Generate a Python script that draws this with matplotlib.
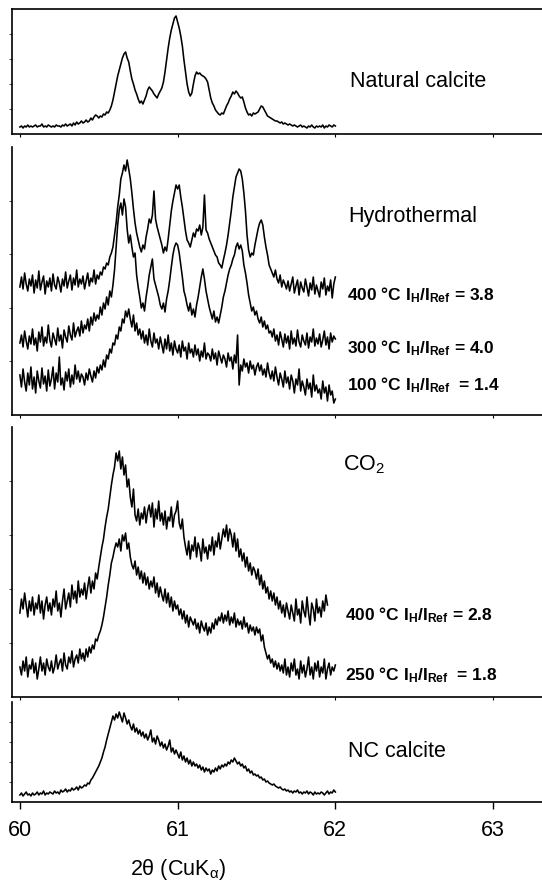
import numpy as np
import matplotlib
matplotlib.use("Agg")
import matplotlib.pyplot as plt

plt.rcParams['font.family'] = ['Liberation Sans', 'DejaVu Sans']
plt.rcParams['mathtext.default'] = 'regular'

# 2theta grid of the scans (0.01 deg steps, 60 -> 62)
two_theta = np.round(np.arange(60.0, 62.0001, 0.01), 2)

# intensities (arbitrary units, panel pixel heights)
natural = [7,8,6,8,7,9,7,8,7,8, 9,7,8,8,10,7,8,7,9,8, 7,8,7,9,8,8,7,9,8,10,
           8,9,10,8,11,9,12,10,11,13, 11,12,14,12,13,16,14,17,19,18,
           16,18,17,20,19,22,21,24,28,34, 42,50,58,64,70,76,80,82,76,72,
           63,55,50,44,40,35,31,33,30,34, 38,44,47,45,43,40,38,36,40,43,
           46,52,62,74,86,96,104,110,116,118, 112,106,98,88,74,62,50,42,38,41,
           50,58,62,60,61,59,58,57,55,52, 44,36,31,28,24,22,20,19,21,20,
           24,28,31,35,38,42,40,43,41,38, 36,37,32,26,22,19,20,18,21,20,
           21,22,25,28,27,24,21,18,17,16, 15,14,13,13,12,11,12,10,11,10,
           9,10,9,8,9,8,7,8,9,7, 8,7,6,8,7,9,7,6,8,7, 8,7,9,6,8,7,9,8,7,9, 8]

hydro_400 = [128,138,126,142,131,124,136,129,140,122, 135,127,144,125,133,139,121,134,128,137,
             124,141,130,126,138,132,123,136,129,143, 127,134,140,125,137,130,145,128,136,131,
             139,126,134,142,129,137,133,145,131,140, 136,143,140,148,146,152,150,158,162,168,
             180,192,208,220,236,242,250,244,255,246, 236,222,206,192,182,175,168,163,170,166,
             178,186,196,192,200,224,196,188,182,176, 170,162,168,164,176,190,204,214,222,230,
             226,230,218,208,196,184,175,172,168,175, 182,178,186,184,190,180,188,220,185,182,
             176,172,168,164,160,158,152,150,147,155, 162,170,180,192,204,218,228,238,242,246,
             244,236,222,204,180,165,158,162,160,170, 178,186,192,195,190,178,168,160,150,146,
             142,138,145,136,132,140,128,135,131,126, 134,124,131,138,122,129,135,120,133,127,
             123,136,128,119,132,125,138,121,130,124, 118,133,126,137,120,129,124,135,117,131, 138]

hydro_300 = [72,80,68,84,74,66,79,71,86,70, 77,64,83,73,88,69,78,72,90,75,
             68,82,76,70,87,74,80,67,85,78, 73,89,80,75,92,78,84,88,79,94,
             82,90,86,96,84,98,90,102,94,100, 96,108,100,112,106,118,110,124,118,130,
             145,168,190,205,212,200,216,208,186,172, 180,168,158,162,140,128,118,107,112,104,
             118,128,140,148,156,136,130,124,118,110, 106,112,103,116,124,135,148,160,168,172,
             170,162,150,138,124,118,110,104,112,100, 106,98,110,118,128,138,146,136,124,116,
             108,102,96,104,93,98,92,100,108,118, 124,132,140,146,150,156,160,168,172,166,
             170,164,150,142,132,120,112,104,108,100, 104,96,92,98,88,94,86,90,82,84,
             78,86,74,80,70,83,76,68,81,72, 79,66,84,71,77,69,85,73,68,80,
             74,70,82,67,78,73,86,69,77,71, 81,68,75,84,70,78,66,82,73,79, 76]

hydro_100 = [40,28,46,33,24,42,30,48,26,38, 22,44,34,27,47,31,39,24,45,29,
             36,48,26,42,33,58,30,37,25,43, 34,46,28,40,31,50,36,44,33,41,
             38,30,42,35,46,39,33,44,37,48, 42,50,45,55,48,60,56,66,62,72,
             70,80,76,88,84,96,92,104,98,106, 96,88,100,84,92,80,86,76,84,72,
             80,70,86,74,68,82,72,76,66,78, 70,62,76,66,80,64,72,60,74,66,
             62,70,58,74,64,68,56,72,62,66, 58,70,60,66,54,64,58,72,56,62,
             60,54,66,56,62,50,64,58,52,60, 56,48,62,54,58,46,60,52,80,30,
             50,44,56,48,52,42,54,46,50,40, 48,52,44,50,40,46,38,52,42,36,
             44,34,48,38,30,42,36,28,44,32, 38,26,40,34,22,36,30,46,24,34,
             28,20,36,26,32,18,40,24,30,22, 26,16,34,22,28,14,30,20,24,12, 16]

co2_400 = [84,98,88,104,92,80,96,86,100,82, 94,88,102,84,96,78,92,100,86,94,
           82,98,90,106,86,94,80,96,108,88, 96,104,90,112,98,106,94,116,100,108,
           102,114,98,110,120,104,116,108,124,118, 130,140,150,158,170,180,188,200,212,222,
           230,244,236,246,228,240,222,232,210,218, 200,190,208,182,176,188,172,184,178,190,
           174,186,192,180,194,170,188,178,196,176, 184,172,186,168,180,176,190,170,182,186,
           196,174,168,178,160,150,142,156,138,152, 146,160,140,154,148,136,158,144,150,138,
           152,146,160,142,156,150,164,148,158,168, 160,172,156,168,162,150,164,146,158,140,
           148,136,144,130,140,126,134,122,130,126, 118,128,112,122,108,116,104,110,98,106,
           96,104,92,100,88,96,84,92,80,94, 86,78,92,84,76,98,82,88,74,96,
           86,80,100,84,72,94,88,76,98,84, 90,80,96,86,102,92]

co2_250 = [30,22,36,26,40,20,32,28,38,24, 34,18,28,40,26,34,22,38,30,26,
           36,24,30,42,28,34,38,26,44,32, 28,40,34,46,30,38,42,34,48,38,
           44,36,48,40,50,44,52,48,58,56, 62,66,72,80,90,100,112,122,134,140,
           148,154,150,158,146,162,156,164,148,154, 140,132,128,136,122,130,118,126,114,124,
           112,120,108,116,110,120,104,114,100,110, 102,96,108,94,104,90,100,86,96,88,
           92,82,88,78,86,74,82,70,80,76, 72,78,68,74,64,76,70,66,74,62,
           70,64,74,68,78,72,80,76,84,74, 82,76,86,72,80,74,84,70,78,72,
           76,68,80,70,74,64,72,66,70,62, 70,64,68,56,62,50,44,38,42,34,
           38,30,36,28,34,26,32,24,38,22, 30,20,34,26,38,22,28,18,36,24,
           32,20,28,40,22,30,18,34,26,36, 20,30,24,38,18,28,34,22,30,26, 32]

nc_calcite = [7,9,6,8,10,7,8,6,9,7, 8,10,7,9,8,11,7,9,8,10, 9,8,11,9,10,8,12,10,11,13,
              10,12,11,14,12,13,15,12,16,14, 15,17,16,19,18,22,24,27,30,33,
              36,40,44,50,55,62,68,74,80,86, 82,88,84,90,85,80,89,84,78,82,
              76,72,78,70,74,68,72,66,70,64, 68,62,66,72,60,64,58,66,62,56,
              60,54,58,52,56,62,50,54,48,52, 48,44,50,42,46,40,44,38,42,36,
              40,36,38,34,37,32,35,30,34,31, 33,28,32,30,34,31,36,33,37,35,
              38,36,40,38,42,40,44,41,38,40, 36,38,34,36,31,33,29,31,27,28,
              26,27,24,25,22,23,20,21,19,18, 17,18,16,15,14,15,13,12,13,11,
              12,10,11,9,11,10,12,9,10,8, 10,9,11,8,10,9,7,10,8,9, 8,10,9,7,9,11,8,10,9,12, 10]

W, H = 542, 884
fig = plt.figure(figsize=(W / 100, H / 100), dpi=100)


def px_axes(top, bottom):
    return fig.add_axes([12 / W, 1 - bottom / H, 1 - 12 / W, (bottom - top) / H])


panels = [
    (9, 134, 125, [natural], True),
    (147, 415, 268, [hydro_400, hydro_300, hydro_100], False),
    (427, 697, 270, [co2_400, co2_250], False),
    (702, 802, 100, [nc_calcite], False),
]

axes = []
for top, bottom, hgt, traces, top_spine in panels:
    ax = px_axes(top, bottom)
    for tr in traces:
        ax.plot(two_theta[:len(tr)], tr, color='black', lw=1.15)
    ax.set_xlim(59.95, 63.31)
    ax.set_ylim(0, hgt)
    ax.spines['right'].set_visible(False)
    ax.spines['top'].set_visible(top_spine)
    for s in ax.spines.values():
        s.set_linewidth(1.2)
    ax.set_xticks([60, 61, 62, 63])
    ax.set_yticks(np.linspace(0, hgt, 6)[1:-1])
    ax.tick_params(axis='y', length=2, width=0.5, labelleft=False)
    ax.tick_params(axis='x', length=2, width=0.8, labelbottom=False)
    axes.append(ax)

axes[-1].tick_params(axis='x', length=5, width=1.0, labelbottom=True,
                     labelsize=15.5, pad=8)


def label(x, y, s, **kw):
    fig.text(x / W, 1 - y / H, s, va='baseline', ha='left', **kw)


cond = dict(fontsize=12.5, fontweight='bold')
label(350, 87, 'Natural calcite', fontsize=15.5)
label(348, 222, 'Hydrothermal', fontsize=15.5)
label(347, 300, '400 °C I$_H$/I$_{Ref}$ = 3.8', **cond)
label(347, 353, '300 °C I$_H$/I$_{Ref}$ = 4.0', **cond)
label(347, 390, '100 °C I$_H$/I$_{Ref}$  = 1.4', **cond)
label(343, 470, 'CO$_2$', fontsize=15.5)
label(345, 620, '400 °C I$_H$/I$_{Ref}$ = 2.8', **cond)
label(345, 680, '250 °C I$_H$/I$_{Ref}$  = 1.8', **cond)
label(348, 757, 'NC calcite', fontsize=15.5)

fig.text(178 / W, 1 - 875 / H, '2θ (CuK$_α$)', fontsize=15.5, ha='center', va='baseline')

fig.savefig('out.png', dpi=100)
